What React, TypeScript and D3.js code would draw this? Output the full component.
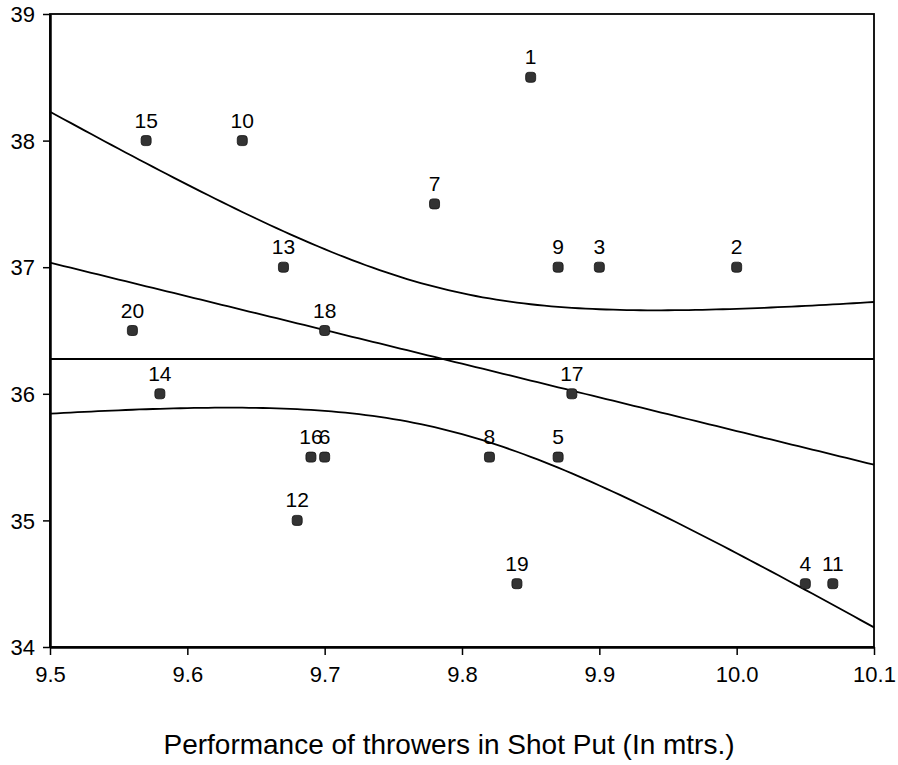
import { useEffect, useRef } from 'react';
import * as d3 from 'd3';

// thrower id, shot put (m), second measure
const ids = [1, 2, 3, 4, 5, 6, 7, 8, 9, 10, 11, 12, 13, 14, 15, 16, 17, 18, 19, 20];
const shotPut = [9.85, 10.0, 9.9, 10.05, 9.87, 9.7, 9.78, 9.82, 9.87, 9.64, 10.07, 9.68, 9.67, 9.58, 9.57, 9.69, 9.88, 9.7, 9.84, 9.56];
const scores = [38.5, 37, 37, 34.5, 35.5, 35.5, 37.5, 35.5, 37, 38, 34.5, 35, 37, 36, 38, 35.5, 36, 36.5, 34.5, 36.5];
const xTicks = [9.5, 9.6, 9.7, 9.8, 9.9, 10.0, 10.1];
const yTicks = [34, 35, 36, 37, 38, 39];

const W = 898;
const H = 765;
const margin = { top: 14, right: 24, bottom: 118, left: 50 };
const T_CRIT = 2.101; // t(0.975, 18)
const FONT = 'Liberation Sans, Arial, sans-serif';

const App = () => {
	const svgRef = useRef<SVGSVGElement>(null);

	useEffect(() => {
		document.body.style.margin = '0';
		const svg = d3.select(svgRef.current);
		svg.selectAll('*').remove();
		svg.style('font-family', FONT);

		const x = d3.scaleLinear().domain([9.5, 10.1]).range([margin.left, W - margin.right]);
		const y = d3.scaleLinear().domain([34, 39]).range([H - margin.bottom, margin.top]);

		// least squares fit and 95% band for the mean
		const n = shotPut.length;
		const mx = d3.mean(shotPut)!;
		const my = d3.mean(scores)!;
		const sxx = d3.sum(shotPut, v => (v - mx) ** 2);
		const sxy = d3.sum(shotPut, (v, i) => (v - mx) * (scores[i] - my));
		const slope = sxy / sxx;
		const icpt = my - slope * mx;
		const sse = d3.sum(shotPut, (v, i) => (scores[i] - (icpt + slope * v)) ** 2);
		const s = Math.sqrt(sse / (n - 2));
		const half = (v: number) => T_CRIT * s * Math.sqrt(1 / n + (v - mx) ** 2 / sxx);

		const xs = d3.range(0, 121).map(i => 9.5 + (0.6 * i) / 120);

		const g = svg.append('g');

		// frame
		g.append('rect')
			.attr('x', x(9.5))
			.attr('y', y(39))
			.attr('width', x(10.1) - x(9.5))
			.attr('height', y(34) - y(39))
			.attr('fill', 'none')
			.attr('stroke', '#000')
			.attr('stroke-width', 1.8);

		// mean line
		g.append('line')
			.attr('x1', x(9.5))
			.attr('x2', x(10.1))
			.attr('y1', y(my))
			.attr('y2', y(my))
			.attr('stroke', '#000')
			.attr('stroke-width', 1.8);

		const curves = [
			xs.map(v => [v, icpt + slope * v]),
			xs.map(v => [v, icpt + slope * v + half(v)]),
			xs.map(v => [v, icpt + slope * v - half(v)]),
		];
		g.selectAll('path.fit')
			.data(curves)
			.join('path')
			.attr('class', 'fit')
			.attr('fill', 'none')
			.attr('stroke', '#000')
			.attr('stroke-width', 1.8)
			.attr('d', d =>
				d3
					.line<number[]>()
					.x(p => x(p[0]))
					.y(p => y(p[1]))(d),
			);

		// axes
		const xAxis = g
			.append('g')
			.attr('transform', `translate(0,${y(34)})`)
			.call(d3.axisBottom(x).tickValues(xTicks).tickSize(8).tickSizeOuter(0).tickFormat(d3.format('.1f')));
		const yAxis = g
			.append('g')
			.attr('transform', `translate(${x(9.5)},0)`)
			.call(d3.axisLeft(y).tickValues(yTicks).tickSize(7).tickSizeOuter(0).tickFormat(d3.format('d')));
		[xAxis, yAxis].forEach(a => {
			a.select('.domain').attr('stroke-width', 2.5);
			a.selectAll('.tick line').attr('stroke-width', 1.5);
			a.selectAll('.tick text').attr('font-size', 22).attr('fill', '#000').attr('font-family', FONT);
		});
		xAxis.selectAll('.tick text').attr('y', 35).attr('dy', null);
		yAxis.selectAll('.tick text').attr('x', -15).attr('dy', '0.35em');

		// points
		const pts = g.append('g');
		pts.selectAll('rect')
			.data(ids)
			.join('rect')
			.attr('x', (d, i) => x(shotPut[i]) - 5)
			.attr('y', (d, i) => y(scores[i]) - 5)
			.attr('width', 10)
			.attr('height', 10)
			.attr('rx', 3)
			.attr('fill', '#333')
			.attr('stroke', '#111')
			.attr('stroke-width', 0.8);
		pts.selectAll('text')
			.data(ids)
			.join('text')
			.attr('x', (d, i) => x(shotPut[i]))
			.attr('y', (d, i) => y(scores[i]) - 13)
			.attr('text-anchor', 'middle')
			.attr('font-size', 21)
			.attr('fill', '#000')
			.text(d => d);

		// axis title
		svg.append('text')
			.attr('x', W / 2)
			.attr('y', 754)
			.attr('text-anchor', 'middle')
			.attr('font-size', 28)
			.attr('fill', '#000')
			.text('Performance of throwers in Shot Put (In mtrs.)');
	}, []);

	return <svg ref={svgRef} width={W} height={H} style={{ display: 'block' }}></svg>;
};

export default App;
